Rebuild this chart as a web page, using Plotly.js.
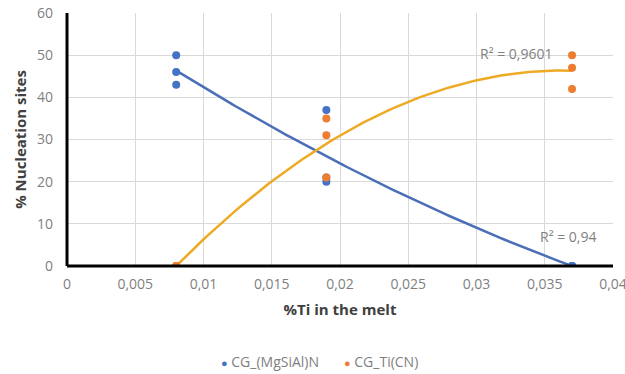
<!DOCTYPE html>
<html>
<head>
<meta charset="utf-8">
<script src="https://cdn.plot.ly/plotly-3.0.1.min.js"></script>
<style>html,body{margin:0;padding:0;background:#fff;}#chart{width:625px;height:374px;}</style>
</head>
<body>
<div id="chart"></div>
<script>
// Data
const xMg = [0.008, 0.008, 0.008, 0.019, 0.019, 0.019, 0.037, 0.037, 0.037];
const yMg = [50, 46, 43, 37, 21, 20, 0, 0, 0];
const xTi = [0.008, 0.008, 0.008, 0.019, 0.019, 0.019, 0.037, 0.037, 0.037];
const yTi = [0, 0, 0, 35, 31, 21, 50, 47, 42];
const seriesNames = ['CG_(MgSiAl)N', 'CG_Ti(CN)'];
const r2Labels = ['R² = 0,94', 'R² = 0,9601'];
const xTickVals = [0, 0.005, 0.01, 0.015, 0.02, 0.025, 0.03, 0.035, 0.04];
const yTickVals = [0, 10, 20, 30, 40, 50, 60];

// Least-squares polynomial (order 2) trendline, like Excel's
function polyFit2(xs, ys) {
  let S = [0,0,0,0,0], T = [0,0,0];
  for (let i = 0; i < xs.length; i++) {
    let p = 1;
    for (let k = 0; k < 5; k++) { S[k] += p; if (k < 3) T[k] += p * ys[i]; p *= xs[i]; }
  }
  const A = [[S[0],S[1],S[2],T[0]],[S[1],S[2],S[3],T[1]],[S[2],S[3],S[4],T[2]]];
  for (let c = 0; c < 3; c++) {
    let piv = c;
    for (let r = c+1; r < 3; r++) if (Math.abs(A[r][c]) > Math.abs(A[piv][c])) piv = r;
    [A[c], A[piv]] = [A[piv], A[c]];
    for (let r = 0; r < 3; r++) if (r !== c) {
      const f = A[r][c] / A[c][c];
      for (let k = c; k < 4; k++) A[r][k] -= f * A[c][k];
    }
  }
  return [A[0][3]/A[0][0], A[1][3]/A[1][1], A[2][3]/A[2][2]];
}
function trend(xs, ys) {
  const c = polyFit2(xs, ys);
  const lo = Math.min(...xs), hi = Math.max(...xs);
  const tx = [], ty = [];
  for (let i = 0; i <= 100; i++) {
    const x = lo + (hi - lo) * i / 100;
    tx.push(x); ty.push(c[0] + c[1]*x + c[2]*x*x);
  }
  return {x: tx, y: ty};
}
const tMg = trend(xMg, yMg), tTi = trend(xTi, yTi);

const blue = '#4472C4', orange = '#ED7D31';
const font = 'Open Sans, Noto Sans, sans-serif';
const tickGray = '#7F7F7F';

const traces = [
  {x: tMg.x, y: tMg.y, mode: 'lines', line: {color: '#4A6FB8', width: 2.5}, showlegend: false, hoverinfo: 'skip'},
  {x: tTi.x, y: tTi.y, mode: 'lines', line: {color: '#EDAA24', width: 2.5}, showlegend: false, hoverinfo: 'skip'},
  {x: xMg, y: yMg, mode: 'markers', name: seriesNames[0], marker: {color: blue, size: 8}, showlegend: false},
  {x: xTi, y: yTi, mode: 'markers', name: seriesNames[1], marker: {color: orange, size: 8}, showlegend: false}
];

const layout = {
  width: 625, height: 374,
  margin: {l: 67, r: 12, t: 13, b: 108},
  paper_bgcolor: '#fff', plot_bgcolor: '#fff',
  separators: ', ',
  showlegend: false,
  font: {family: font, color: tickGray, size: 14},
  xaxis: {
    range: [0, 0.04], tickvals: xTickVals, automargin: false,
    showgrid: true, gridcolor: '#D9D9D9', gridwidth: 1,
    zeroline: false, showline: false, ticks: '',
    ticklabelstandoff: 8, ticklabeloverflow: 'allow',
    tickfont: {size: 14, color: tickGray},
    title: {text: '<b>%Ti in the melt</b>', font: {size: 15, color: '#404040'}, standoff: 12}
  },
  yaxis: {
    range: [0, 60], tickvals: yTickVals, automargin: false,
    showgrid: true, gridcolor: '#D9D9D9', gridwidth: 1,
    zeroline: false, showline: false, ticks: '',
    ticklabelstandoff: 13,
    tickfont: {size: 14, color: tickGray},
    title: {text: '<b>% Nucleation sites</b>', font: {size: 15, color: '#404040'}, standoff: 6}
  },
  shapes: [
    {type: 'line', xref: 'paper', yref: 'paper', x0: 0, x1: 1, y0: 0, y1: 0, line: {color: '#000', width: 3}},
    {type: 'line', xref: 'paper', yref: 'paper', x0: 0, x1: 0, y0: 0, y1: 1, line: {color: '#000', width: 3}}
  ],
  annotations: [
    {x: 0.0367, y: 0, xanchor: 'center', yanchor: 'bottom', yshift: 18, text: r2Labels[0], showarrow: false, font: {size: 14, color: tickGray}},
    {x: 0.0329, y: 50.5, xanchor: 'center', yanchor: 'middle', text: r2Labels[1], showarrow: false, font: {size: 14, color: tickGray}},
    {xref: 'paper', yref: 'paper', x: 0.278, y: -0.378, xanchor: 'left', yanchor: 'middle', showarrow: false,
     text: '<span style="color:' + blue + ';font-size:11px">●</span> ' + seriesNames[0], font: {size: 14, color: tickGray}},
    {xref: 'paper', yref: 'paper', x: 0.503, y: -0.378, xanchor: 'left', yanchor: 'middle', showarrow: false,
     text: '<span style="color:' + orange + ';font-size:11px">●</span> ' + seriesNames[1], font: {size: 14, color: tickGray}}
  ]
};

Plotly.newPlot('chart', traces, layout, {displayModeBar: false, staticPlot: true});
</script>
</body>
</html>
